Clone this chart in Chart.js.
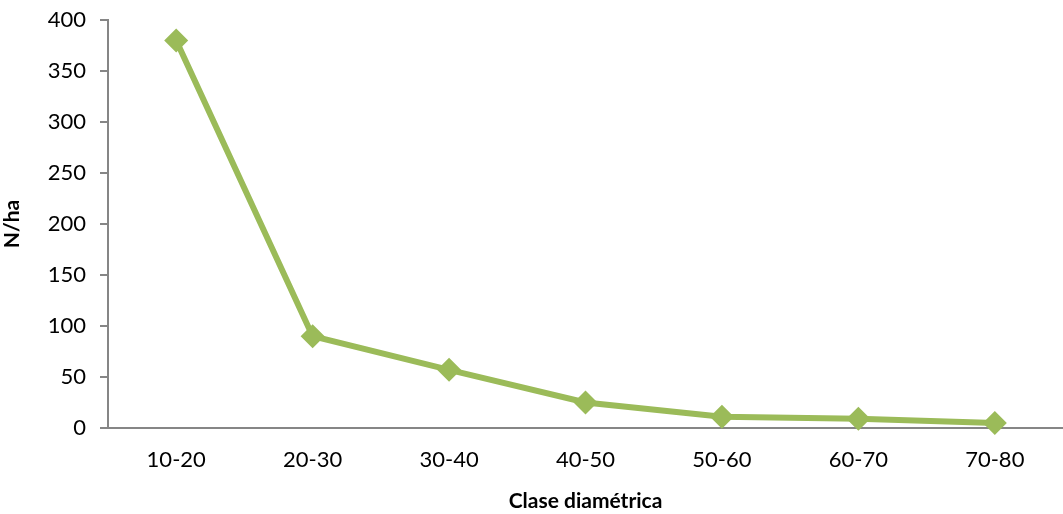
<!DOCTYPE html>
<html>
<head>
<meta charset="utf-8">
<script src="https://cdn.jsdelivr.net/npm/chart.js@4/dist/chart.umd.min.js"></script>
<style>
  html, body { margin: 0; padding: 0; background: #fff; overflow: hidden; }
  canvas { display: block; }
</style>
</head>
<body>
<canvas id="chart" width="1063" height="514"></canvas>
<script>
// diameter classes and stems per hectare
var clases = ["10-20", "20-30", "30-40", "40-50", "50-60", "60-70", "70-80"];
var nPorHa = [380, 90, 57, 25, 11, 9, 5];
var yTicks = [0, 50, 100, 150, 200, 250, 300, 350, 400];

var verde = '#9BBB59';
var ejeColor = '#868686';
var fuente = "Lato, 'Open Sans', sans-serif";

new Chart(document.getElementById("chart"), {
  type: 'line',
  data: {
    labels: clases,
    datasets: [{
      data: nPorHa,
      borderColor: verde,
      backgroundColor: verde,
      borderWidth: 6,
      pointStyle: 'rectRot',
      pointRadius: 12,
      pointHoverRadius: 12,
      pointBorderWidth: 0,
      tension: 0,
      fill: false,
      clip: false
    }]
  },
  options: {
    responsive: false,
    animation: false,
    layout: { autoPadding: false, padding: { top: 20, right: 0, bottom: 0, left: 0 } },
    plugins: {
      legend: { display: false },
      tooltip: { enabled: false }
    },
    scales: {
      x: {
        offset: true,
        afterFit: function(axis) { axis.paddingRight = 0; axis.paddingLeft = 0; axis.height = 86; },
        grid: { display: true, drawOnChartArea: false, drawTicks: false },
        border: { display: true, color: ejeColor, width: 2 },
        ticks: { color: '#000', padding: 19, font: { family: fuente, size: 22 } },
        title: {
          display: true,
          text: 'Clase diamétrica',
          color: '#000',
          padding: { top: 2, bottom: 0 },
          font: { family: fuente, size: 21, weight: 'bold' }
        }
      },
      y: {
        min: 0,
        max: 400,
        afterBuildTicks: function(axis) {
          axis.ticks = yTicks.map(function(v) { return { value: v }; });
        },
        afterFit: function(axis) { axis.width = 108; axis.paddingTop = 0; axis.paddingBottom = 0; },
        grid: { display: true, drawOnChartArea: false, drawTicks: true, tickLength: 8, color: ejeColor, lineWidth: 2 },
        border: { display: true, color: ejeColor, width: 2 },
        ticks: { color: '#000', padding: 14, font: { family: fuente, size: 22 } },
        title: {
          display: true,
          text: 'N/ha',
          color: '#000',
          padding: { top: 0, bottom: 6 },
          font: { family: fuente, size: 21, weight: 'bold' }
        }
      }
    }
  }
});
</script>
</body>
</html>
